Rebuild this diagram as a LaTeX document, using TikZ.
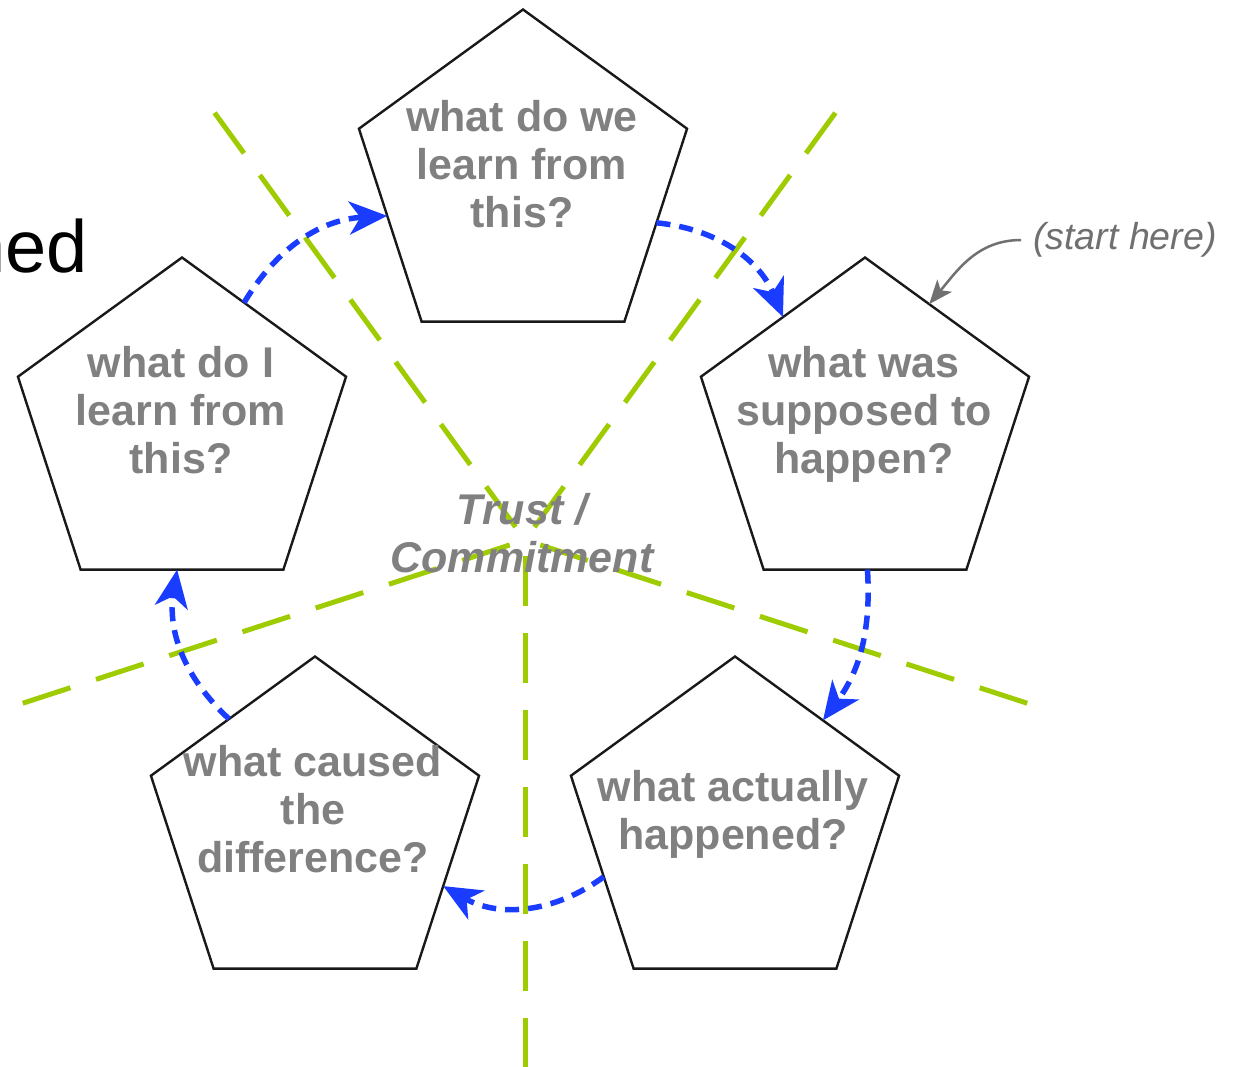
\documentclass[tikz,border=0pt]{standalone}
\usepackage{fontspec}
\setmainfont{Liberation Sans}
\usetikzlibrary{shapes.geometric,arrows.meta}

\definecolor{cyclegreen}{RGB}{158,204,0}
\definecolor{flowblue}{RGB}{26,60,255}
\definecolor{labelgray}{RGB}{128,128,128}
\definecolor{notegray}{RGB}{112,112,112}

\begin{document}
\begin{tikzpicture}[x=1pt,y=-1pt,
  pent/.style={draw=black!90,line width=2.4pt,regular polygon,regular polygon sides=5,
    minimum size=345pt,inner sep=0pt,outer sep=0pt},
  question/.style={text=labelgray,font=\fontsize{43}{48}\selectfont\bfseries,
    align=center,inner sep=0pt},
  hubtext/.style={text=labelgray,font=\fontsize{43}{48}\selectfont\bfseries\itshape,
    align=center,inner sep=0pt},
  divider/.style={draw=cyclegreen,line width=5pt,dash pattern=on 50pt off 27pt},
  flow/.style={draw=flowblue,line width=5.5pt,dash pattern=on 14pt off 9pt,
    -{Stealth[length=38pt,width=33pt,inset=11pt]}},
  pointer/.style={draw=notegray,line width=2.5pt,
    -{Stealth[length=24pt,width=19pt,inset=6pt]}},
]
\useasboundingbox (0,0) rectangle (1236,1066);
\fill[white] (0,0) rectangle (1236,1066);

% centre of the cycle and the outer ends of the five dividing rays
\coordinate (c) at (525,540);
\coordinate (r1) at (214.6,112.8);
\coordinate (r2) at (835.4,112.8);
\coordinate (r3) at (1027.2,703.2);
\coordinate (r4) at (525,1068);
\coordinate (r5) at (22.8,703.2);
\foreach \r in {r1,r2,r3,r4,r5}
  \draw[divider] (\r) -- (c);

\node[hubtext] (hub) at (522,533.5) {Trust /\\Commitment};

% the five stages
\node[pent] (p1) at (523,182) {};
\node[pent] (p2) at (865,430) {};
\node[pent] (p3) at (735,829) {};
\node[pent] (p4) at (315,829) {};
\node[pent] (p5) at (182,430) {};

\node[question] (q1) at (522,164) {what do we\\learn from\\this?};
\node[question] (q2) at (864,414) {what was\\supposed to\\happen?};
\node[question] (q3) at (733,814) {what actually\\happened?};
\node[question] (q4) at (313,809) {what caused\\the\\difference?};
\node[question] (q5) at (181,410) {what do I\\learn from\\this?};

% clockwise flow between the stages
\draw[flow] (p1.-17) to[bend left=31] (p2.126);
\draw[flow] (p2.-89) to[bend left=20] (p3.51);
\draw[flow] (p3.200) to[bend left=33] (p4.-24);
\draw[flow] (p4.128) to[bend left=28] (p5.-92);
\draw[flow] (p5.64) to[bend left=28] (p1.194);

% entry hint
\node[text=notegray,font=\fontsize{37.5}{42}\selectfont\itshape,
  inner sep=0pt,inner xsep=12pt] (sh) at (1125,240) {(start here)};
\draw[pointer] (sh.west) to[out=180,in=50] (p2.63);

% clipped heading fragment
\node[anchor=base east,inner sep=0pt,font=\fontsize{74}{80}\selectfont] (ned) at (88,272) {ned};
\end{tikzpicture}
\end{document}
